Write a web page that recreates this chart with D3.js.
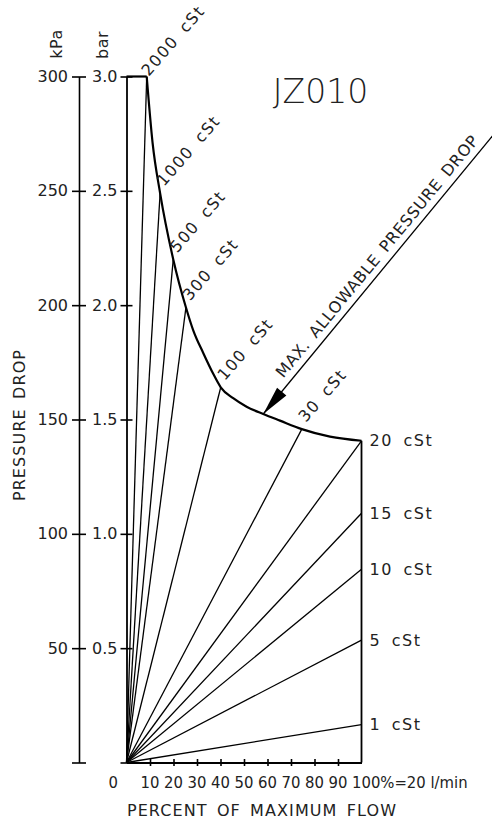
<!DOCTYPE html>
<html>
<head>
<meta charset="utf-8">
<script src="https://cdn.jsdelivr.net/npm/d3@7/dist/d3.min.js"></script>
<style>
  body { margin: 0; background: #fff; }
  svg { display: block; font-family: 'DejaVu Sans', sans-serif; fill: #000; }
  .axis path, .axis line { stroke: #000; stroke-width: 1.6; }
  .axis text { font-family: 'DejaVu Sans', sans-serif; font-size: 16px; fill: #222; }
  .visc { stroke: #000; stroke-width: 1.3; fill: none; }
  .envelope { stroke: #000; stroke-width: 2.2; fill: none; }
  .frame { stroke: #000; stroke-width: 1.8; fill: none; }
  .label { font-size: 16px; letter-spacing: 1.5px; word-spacing: 4px; fill: #222; }
  .xlabel { font-family: 'Liberation Sans Narrow', 'DejaVu Sans Condensed', sans-serif; font-size: 16.5px; fill: #222; }
  .title { font-size: 16px; letter-spacing: 1.1px; word-spacing: 3px; fill: #222; }
</style>
</head>
<body>
<div id="chart"></div>
<script>
const WIDTH = 492
const HEIGHT = 826

const PLOT = { left: 126.5, right: 361.5, top: 76.5, bottom: 762.5 }
const KPA_AXIS_X = 79

// values

const TITLE = 'JZ010'

const FLOW_TICKS = [0, 10, 20, 30, 40, 50, 60, 70, 80, 90, 100]
const FLOW_LABELS = ['0', '10', '20', '30', '40', '50', '60', '70', '80', '90', '100%=20 l/min']
const BAR_TICKS = [0, 0.5, 1.0, 1.5, 2.0, 2.5, 3.0]
const KPA_TICKS = [0, 50, 100, 150, 200, 250, 300]

// max. allowable pressure drop envelope (flow %, bar)
const ENVELOPE_FLOW = [0, 8.6, 11.1, 14.3, 19.9, 25.3, 28.4, 32.7, 36.9, 40.1, 45.4, 51.1, 58.2, 65.3, 74.6, 86.6, 100]
const ENVELOPE_BAR  = [3.0, 3.0, 2.71, 2.49, 2.2, 1.99, 1.89, 1.79, 1.70, 1.641, 1.593, 1.556, 1.524, 1.495, 1.458, 1.425, 1.407]

// viscosity lines, from origin to end point (flow %, bar)
const VISC_LABELS = ['2000 cSt', '1000 cSt', '500 cSt', '300 cSt', '100 cSt', '30 cSt', '20 cSt', '15 cSt', '10 cSt', '5 cSt', '1 cSt']
const VISC_FLOW   = [8.6, 14.3, 19.9, 25.3, 40.1, 74.6, 100, 100, 100, 100, 100]
const VISC_BAR    = [3.0, 2.49, 2.2, 1.99, 1.641, 1.458, 1.407, 1.09, 0.845, 0.535, 0.166]

const ARROW_LABEL = 'MAX. ALLOWABLE PRESSURE DROP'
const ARROW_FLOW = 58.2
const ARROW_BAR = 1.524

const LABEL_ANGLE = -49
const ARROW_ANGLE = -50.5

let svg = d3.select('#chart')
  .append('svg')
    .attr('width', WIDTH)
    .attr('height', HEIGHT)

let x = d3.scaleLinear()
  .domain([0, 100])
  .range([PLOT.left, PLOT.right])

let y = d3.scaleLinear()
  .domain([0, 3])
  .range([PLOT.bottom, PLOT.top])

let yk = d3.scaleLinear()
  .domain([0, 300])
  .range([PLOT.bottom, PLOT.top])

// viscosity fan

let visc = VISC_LABELS.map((name, i) => ({ name, flow: VISC_FLOW[i], bar: VISC_BAR[i] }))

svg.append('g')
  .selectAll('line')
  .data(visc)
  .enter().append('line')
    .attr('class', 'visc')
    .attr('x1', x(0))
    .attr('y1', y(0))
    .attr('x2', (d) => x(d.flow))
    .attr('y2', (d) => y(d.bar))

// envelope (flat top, then the curve)

let env = ENVELOPE_FLOW.map((f, i) => [f, ENVELOPE_BAR[i]])

let line = d3.line()
  .x((d) => x(d[0]))
  .y((d) => y(d[1]))

svg.append('path')
  .attr('class', 'envelope')
  .attr('d', line(env.slice(0, 2)))

svg.append('path')
  .attr('class', 'envelope')
  .attr('d', line.curve(d3.curveMonotoneX)(env.slice(1)))

// right edge of the chart

svg.append('path')
  .attr('class', 'frame')
  .attr('d', d3.line()([[x(100), y(ENVELOPE_BAR[ENVELOPE_BAR.length - 1])], [x(100), y(0)]]))

// axes

let barAxis = svg.append('g')
  .attr('class', 'axis')
  .attr('transform', 'translate(' + PLOT.left + ',0)')
  .call(d3.axisLeft(y)
    .tickValues(BAR_TICKS)
    .tickSize(6)
    .tickSizeOuter(0)
    .tickPadding(3)
    .tickFormat((d) => d ? d3.format('.1f')(d) : ''))
barAxis.selectAll('.tick line').attr('x1', 6)
barAxis.select('.domain').style('stroke-width', 1.8)

let kpaAxis = svg.append('g')
  .attr('class', 'axis')
  .attr('transform', 'translate(' + KPA_AXIS_X + ',0)')
  .call(d3.axisLeft(yk)
    .tickValues(KPA_TICKS)
    .tickSize(7)
    .tickSizeOuter(0)
    .tickPadding(4)
    .tickFormat((d) => d ? d : ''))
kpaAxis.selectAll('.tick line').attr('x1', 7)

let flowAxis = svg.append('g')
  .attr('class', 'axis')
  .attr('transform', 'translate(0,' + PLOT.bottom + ')')
  .call(d3.axisBottom(x)
    .tickValues(FLOW_TICKS.slice(1, -1))
    .tickSize(3.5)
    .tickSizeOuter(0)
    .tickFormat(''))
flowAxis.selectAll('.tick line').attr('y1', -3.5)
flowAxis.select('.domain').style('stroke-width', 1.8)

let last = FLOW_TICKS.length - 1
svg.append('g')
  .selectAll('text')
  .data(FLOW_TICKS)
  .enter().append('text')
    .attr('class', 'xlabel')
    .attr('x', (d, i) => i === 0 ? x(d) - 8.5 : i === last ? x(d) - 9.5 : x(d))
    .attr('y', 788)
    .attr('text-anchor', (d, i) => i === 0 ? 'end' : i === last ? 'start' : 'middle')
    .text((d, i) => FLOW_LABELS[i])

// axis titles

let vtitle = (txt, tx, ty) => svg.append('text')
  .attr('class', 'title')
  .attr('text-anchor', 'middle')
  .attr('transform', 'translate(' + tx + ',' + ty + ') rotate(-90)')
  .text(txt)

vtitle('kPa', 62, 44).style('letter-spacing', '0.5px')
vtitle('bar', 108, 45).style('letter-spacing', '0.5px')
vtitle('PRESSURE DROP', 25, 425)

svg.append('text')
  .attr('class', 'title')
  .attr('x', 262)
  .attr('y', 816)
  .attr('text-anchor', 'middle')
  .text('PERCENT OF MAXIMUM FLOW')

svg.append('text')
  .attr('x', 320.5)
  .attr('y', 103)
  .attr('text-anchor', 'middle')
  .style('font-size', '33px')
  .style('font-weight', 300)
  .style('fill', '#222')
  .text(TITLE)

// viscosity labels: along the curve they sit at an angle, on the right edge flat

svg.append('g')
  .selectAll('text')
  .data(visc)
  .enter().append('text')
    .attr('class', 'label')
    .attr('transform', (d) => {
      if(d.flow >= 100) return 'translate(' + (x(d.flow) + 8) + ',' + y(d.bar) + ')'
      let dx = d.bar >= 3 ? 2 : 4
      let dy = d.bar >= 3 ? 0.5 : -6
      return 'translate(' + (x(d.flow) + dx) + ',' + (y(d.bar) + dy) + ') rotate(' + LABEL_ANGLE + ')'
    })
    .attr('dy', (d) => d.flow < 100 ? 0 : '0.35em')
    .text((d) => d.name)

// max allowable pressure drop arrow

let arrow = svg.append('g')
  .attr('transform', 'translate(' + x(ARROW_FLOW) + ',' + y(ARROW_BAR) + ') rotate(' + ARROW_ANGLE + ')')

arrow.append('line')
  .attr('x1', 0)
  .attr('x2', 420)
  .attr('stroke', '#000')
  .attr('stroke-width', 1.3)

arrow.append('path')
  .attr('d', 'M0,0L29,-6L29,6Z')
  .attr('fill', '#000')

arrow.append('text')
  .attr('class', 'title')
  .attr('x', 40)
  .attr('y', -7)
  .style('letter-spacing', '0.6px')
  .text(ARROW_LABEL)
</script>
</body>
</html>
